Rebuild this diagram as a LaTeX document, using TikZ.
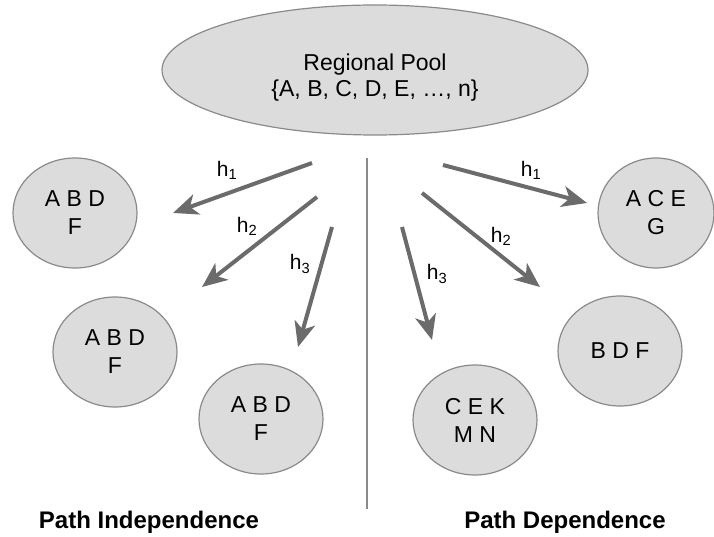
\documentclass[tikz,border=0pt]{standalone}
\usepackage{fontspec}
\setmainfont{Liberation Sans}
\usetikzlibrary{shapes.geometric,arrows.meta}
\definecolor{setfill}{HTML}{DCDCDC}
\definecolor{setedge}{HTML}{8A8A8A}
\definecolor{pickgray}{HTML}{6B6B6B}
\begin{document}
\begin{tikzpicture}[
x=1pt, y=-1pt,
every node/.style = {align=center, font=\fontsize{23}{28}\selectfont},
set/.style = {shape=ellipse, draw=setedge, fill=setfill, line width=1.2pt, minimum width=124pt, minimum height=110pt, inner sep=0pt},
pick/.style = {draw=pickgray, line width=4pt, -{Stealth[length=25pt,width=21pt,inset=7pt]}},
tag/.style = {font=\fontsize{21}{24}\selectfont},
title/.style = {font=\fontsize{24}{28}\selectfont\bfseries},
]
  \useasboundingbox (0,0) rectangle (714,537);
  \node[set, minimum width=426pt, minimum height=130pt] (pool) at (375,70) {};
  \node[font=\fontsize{23}{26}\selectfont] (pooltext) at (375,78) {Regional Pool\\\{A, B, C, D, E, …, n\}};

  \node[set] (indepA) at (75,213) {A B D\\F};
  \node[set] (indepB) at (115,352) {A B D\\F};
  \node[set] (indepC) at (261,419) {A B D\\F};
  \node[set, minimum width=116pt] (depA) at (656,213) {A C E\\G};
  \node[set] (depB) at (620,351) {B D F};
  \node[set] (depC) at (475,420) {C E K\\M N};

  \coordinate (splittop) at (367,158);
  \coordinate (splitbot) at (367,509);
  \draw[setedge, line width=1.5pt] (splittop) -- (splitbot);

  \coordinate (ia) at (312,163);
  \coordinate (ib) at (317,197);
  \coordinate (ic) at (332,227);
  \coordinate (ia') at (173,213);
  \coordinate (ib') at (202,287);
  \coordinate (ic') at (298,347);
  \coordinate (da) at (443,165);
  \coordinate (db) at (422,193);
  \coordinate (dc) at (402,227);
  \coordinate (da') at (587,203);
  \coordinate (db') at (540,287);
  \coordinate (dc') at (432,340);
  \draw[pick] (ia) -- (ia');
  \draw[pick] (ib) -- (ib');
  \draw[pick] (ic) -- (ic');
  \draw[pick] (da) -- (da');
  \draw[pick] (db) -- (db');
  \draw[pick] (dc) -- (dc');

  \node[tag] (ha) at (227,170) {h\textsubscript{1}};
  \node[tag] (hb) at (247,226) {h\textsubscript{2}};
  \node[tag] (hc) at (300,264) {h\textsubscript{3}};
  \node[tag] (ha') at (531,170) {h\textsubscript{1}};
  \node[tag] (hb') at (501,236) {h\textsubscript{2}};
  \node[tag] (hc') at (437,274) {h\textsubscript{3}};

  \node[title] (indep) at (149,522) {Path Independence};
  \node[title] (dep) at (565,522) {Path Dependence};
\end{tikzpicture}
\end{document}
